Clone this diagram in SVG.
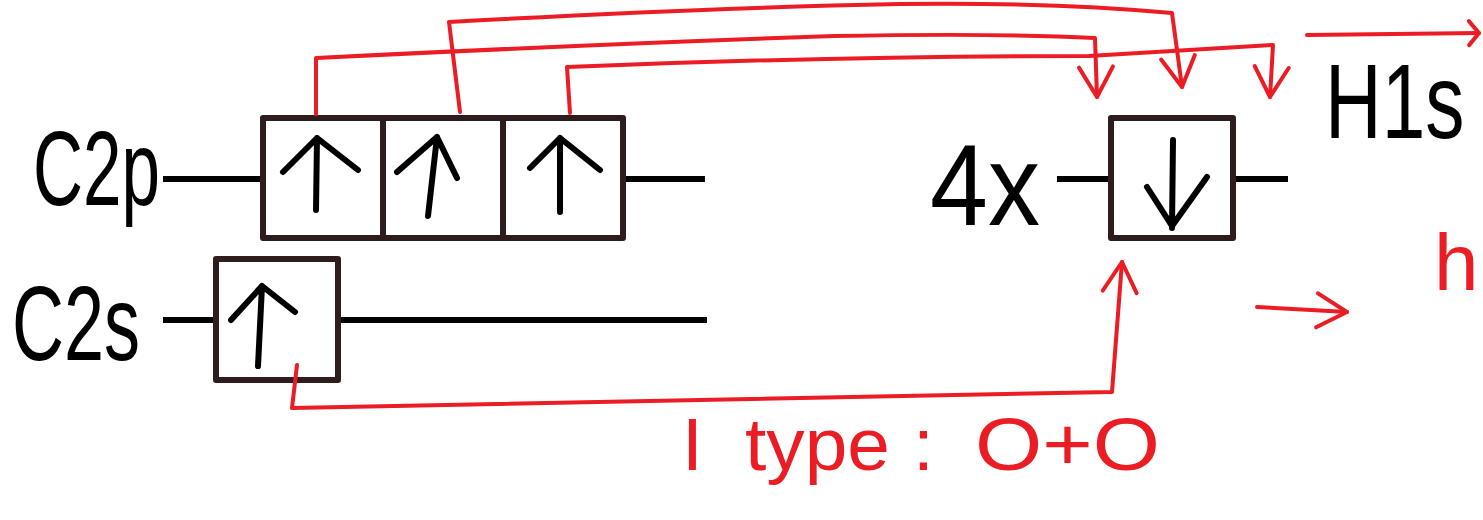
<svg xmlns="http://www.w3.org/2000/svg" width="1483" height="520" viewBox="0 0 1483 520">
<style>
.box{fill:#fff;stroke:#2f1c1c;stroke-width:6;stroke-linejoin:round}
.wire{stroke:#000;stroke-width:6;fill:none}
.spin{stroke:#000;stroke-width:6;fill:none;stroke-linecap:round;stroke-linejoin:round}
.lbl{font-family:"Liberation Sans",Arial,sans-serif;fill:#000}
.red{fill:none;stroke:#ec1c24;stroke-width:4;stroke-linecap:round;stroke-linejoin:round}
.rlbl{font-family:"Liberation Sans",Arial,sans-serif;fill:#ec1c24}
</style>
<defs>
<marker id="hd" markerUnits="userSpaceOnUse" viewBox="0 0 40 40" markerWidth="40" markerHeight="40" refX="36" refY="20" orient="auto">
<path d="M6,3 L36,20 L6,37" fill="none" stroke="#ec1c24" stroke-width="4" stroke-linecap="round" stroke-linejoin="round"/>
</marker>
<marker id="hs" markerUnits="userSpaceOnUse" viewBox="0 0 20 30" markerWidth="20" markerHeight="30" refX="16" refY="15" orient="auto">
<path d="M6,3 L16,15 L6,27" fill="none" stroke="#ec1c24" stroke-width="4" stroke-linecap="round" stroke-linejoin="round"/>
</marker>
</defs>
<rect width="1483" height="520" fill="#fff"/>

<g id="wires">
<path class="wire" d="M163,179 H263 M623,179 H705"/>
<path class="wire" d="M163,320 H216 M338,320 H707"/>
<path class="wire" d="M1057,179 H1111 M1233,179 H1288"/>
</g>

<g id="label-c2p"><text class="lbl" x="33" y="205" font-size="105" textLength="127" lengthAdjust="spacingAndGlyphs">C2p</text></g>
<g id="label-c2s"><text class="lbl" x="12" y="360" font-size="105" textLength="128" lengthAdjust="spacingAndGlyphs">C2s</text></g>
<g id="label-4x"><text class="lbl" x="930" y="225" font-size="115" textLength="110" lengthAdjust="spacingAndGlyphs">4x</text></g>
<g id="label-h1s"><text class="lbl" transform="translate(1325,138) scale(0.74,1)" font-size="106">H1s</text></g>

<g id="c2p-1"><rect class="box" x="263" y="118" width="120" height="120"/><path class="spin" d="M316,210 L317,138 M283,172 L317,138 L358,170"/></g>
<g id="c2p-2"><rect class="box" x="383" y="118" width="120" height="120"/><path class="spin" d="M428,216 L437,137 M397,172 L437,137 L457,178"/></g>
<g id="c2p-3"><rect class="box" x="503" y="118" width="120" height="120"/><path class="spin" d="M560,212 L560,138 M530,168 L560,138 L600,170"/></g>
<g id="c2s-1"><rect class="box" x="216" y="259" width="122" height="121"/><path class="spin" d="M258,366 L262,286 M231,320 L262,286 L295,312"/></g>
<g id="h1s-1"><rect class="box" x="1111" y="118" width="122" height="120"/><path class="spin" d="M1173,140 L1172,228 M1147,187 L1172,226 L1207,177"/></g>

<g id="connectors">
<path class="red" marker-end="url(#hd)" d="M316,114 L316,58 Q600,44 834,36 Q1000,33 1095,38 L1097,97"/>
<path class="red" marker-end="url(#hd)" d="M460,112 L449,22 Q700,8 900,4 Q1050,2 1172,13 L1182,87"/>
<path class="red" marker-end="url(#hd)" d="M570,113 L567,67 Q834,56 1089,56 L1273,45 L1270,97"/>
<path class="red" marker-end="url(#hd)" d="M297,365 L292,408 Q700,400 1112,392 L1122,262"/>
<path class="red" marker-end="url(#hs)" d="M1307,35 L1479,33"/>
<path class="red" marker-end="url(#hd)" d="M1257,307 L1347,312"/>
</g>

<g id="label-type"><text class="rlbl" y="470" font-size="75"><tspan x="682">I </tspan><tspan x="745" textLength="145" lengthAdjust="spacingAndGlyphs">type</tspan><tspan x="913">: </tspan><tspan x="975" textLength="185" lengthAdjust="spacingAndGlyphs">O+O</tspan></text></g>
<g id="label-h"><text class="rlbl" x="1434" y="290" font-size="80">h</text></g>
</svg>
